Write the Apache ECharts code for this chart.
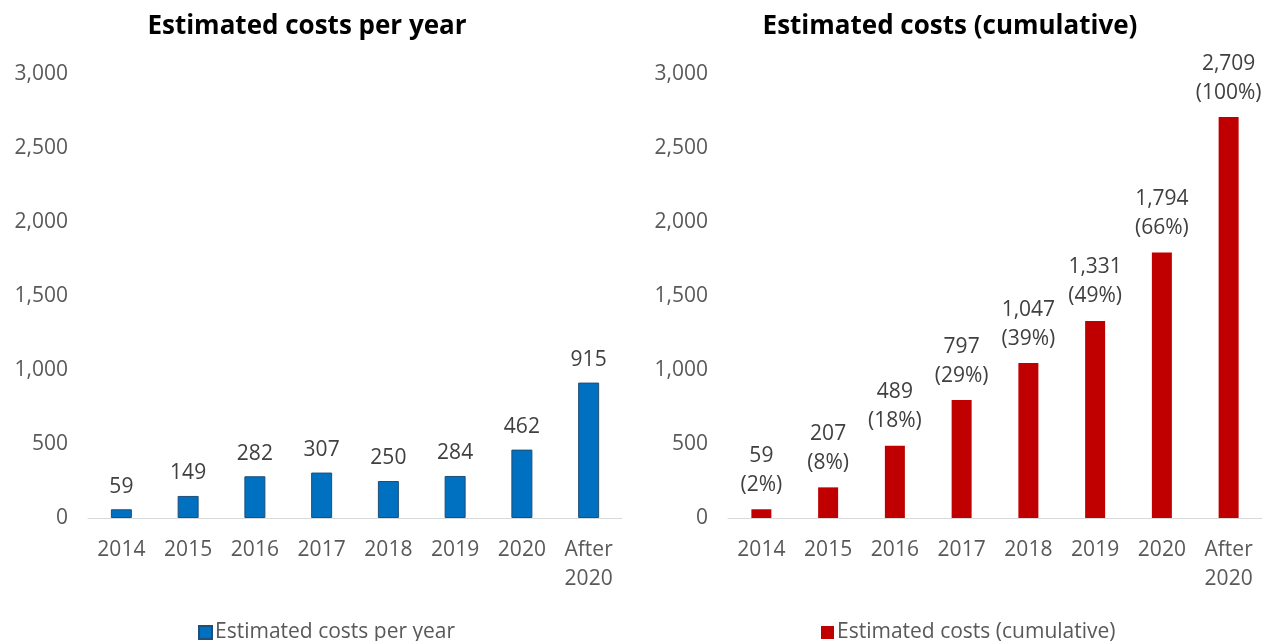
<!DOCTYPE html>
<html><head><meta charset="utf-8">
<script src="https://cdn.jsdelivr.net/npm/echarts@6/dist/echarts.min.js"></script>
<style>html,body{margin:0;padding:0;background:#fff}#c{width:1277px;height:641px}</style>
</head><body><div id="c"></div>
<script>
const categories = ['2014','2015','2016','2017','2018','2019','2020','After\n2020'];
const perYear = [59,149,282,307,250,284,462,915];
const cumulative = [59,207,489,797,1047,1331,1794,2709];
const cumulativePct = ['2%','8%','18%','29%','39%','49%','66%','100%'];
const yTicks = [0,500,1000,1500,2000,2500,3000];

const FONT = '"Open Sans", sans-serif';
const fmt = v => v.toLocaleString('en-US');
const chart = echarts.init(document.getElementById('c'));

function xAxis(idx){
  return {gridIndex:idx,type:'category',data:categories,
    axisLine:{lineStyle:{color:'#D9D9D9',width:1}},axisTick:{show:false},
    axisLabel:{color:'#595959',fontSize:21,fontFamily:FONT,margin:18,lineHeight:29,interval:0}};
}
function yAxis(idx){
  return {gridIndex:idx,type:'value',min:0,max:yTicks[yTicks.length-1],interval:yTicks[1],
    splitLine:{show:false},axisLine:{show:false},axisTick:{show:false},
    axisLabel:{color:'#595959',fontSize:21,fontFamily:FONT,margin:20,formatter:v=>fmt(v)}};
}
chart.setOption({
  animation:false,
  title:[
    {text:'Estimated costs per year',left:302,top:9,textAlign:'center',textStyle:{fontSize:26,fontWeight:'bold',color:'#000',fontFamily:FONT}},
    {text:'Estimated costs (cumulative)',left:945,top:9,textAlign:'center',textStyle:{fontSize:26,fontWeight:'bold',color:'#000',fontFamily:FONT}}
  ],
  grid:[{left:88,right:655,top:74,bottom:123},{left:728,right:15,top:74,bottom:123}],
  xAxis:[xAxis(0),xAxis(1)],
  yAxis:[yAxis(0),yAxis(1)],
  legend:[
    {data:['Estimated costs per year'],left:193,top:617,itemWidth:13,itemHeight:13,itemGap:6,icon:'rect',
      textStyle:{fontSize:21,color:'#595959',fontFamily:FONT,padding:[0,0,0,-2]}},
    {data:['Estimated costs (cumulative)'],left:816,top:617,itemWidth:13,itemHeight:13,itemGap:6,icon:'rect',
      textStyle:{fontSize:21,color:'#595959',fontFamily:FONT,padding:[0,0,0,-2]}}
  ],
  series:[
    {name:'Estimated costs per year',type:'bar',xAxisIndex:0,yAxisIndex:0,data:perYear,barWidth:21,
      itemStyle:{color:'#0070C0',borderColor:'#1F4E79',borderWidth:1},
      label:{show:true,position:'top',distance:12,color:'#404040',fontSize:21,fontFamily:FONT,formatter:p=>fmt(p.value)}},
    {name:'Estimated costs (cumulative)',type:'bar',xAxisIndex:1,yAxisIndex:1,data:cumulative,barWidth:20,
      itemStyle:{color:'#C00000'},
      label:{show:true,position:'top',distance:10,color:'#404040',fontSize:21,fontFamily:FONT,lineHeight:29,
        formatter:p=>fmt(p.value)+'\n('+cumulativePct[p.dataIndex]+')'}}
  ]
});
</script></body></html>
